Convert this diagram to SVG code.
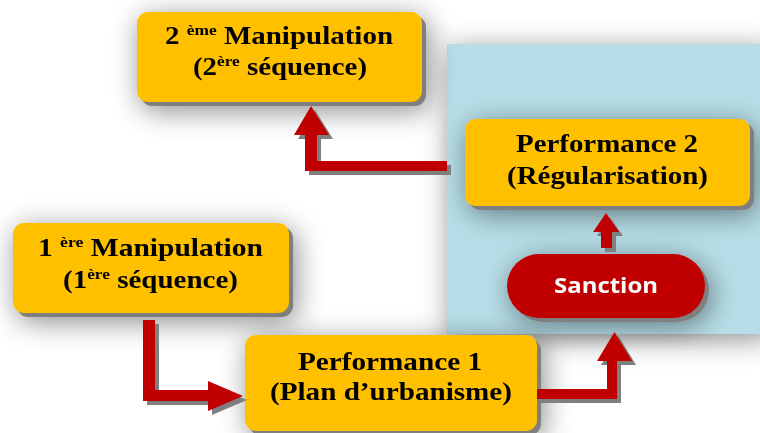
<svg xmlns="http://www.w3.org/2000/svg" width="760" height="433" viewBox="0 0 760 433">
<defs>
<filter id="soft" x="-25%" y="-40%" width="150%" height="180%">
<feGaussianBlur in="SourceAlpha" stdDeviation="14"/>
<feOffset dx="3" dy="5" result="b"/>
<feFlood flood-color="#000" flood-opacity="0.45"/>
<feComposite in2="b" operator="in"/>
<feMerge><feMergeNode/><feMergeNode in="SourceGraphic"/></feMerge>
</filter>
<style>
.box{fill:#FFC000}
.sh{fill:#7F7F7F}
.t{font-family:"Liberation Serif","Times New Roman",serif;font-weight:bold;font-size:25px;fill:#000}
.sup{font-size:15px}
.arr{fill:#C00000}
.s{font-family:"Open Sans","Liberation Sans",sans-serif;font-weight:bold;font-size:21px;fill:#fff}
</style>
</defs>
<rect width="760" height="433" fill="#fff"/>
<g id="panel" filter="url(#soft)">
<rect x="447" y="44" width="320" height="290" fill="#B7DEE8"/>
</g>
<g id="manip2" filter="url(#soft)">
<rect class="sh" x="141" y="16" width="285" height="90" rx="11"/>
<rect class="box" x="137" y="12" width="285" height="90" rx="11"/>
<text class="t" x="165" y="44" textLength="228" lengthAdjust="spacingAndGlyphs">2 <tspan class="sup" dy="-9">ème</tspan><tspan dy="9"> Manipulation</tspan></text>
<text class="t" x="193" y="75" textLength="174" lengthAdjust="spacingAndGlyphs">(2<tspan class="sup" dy="-9">ère</tspan><tspan dy="9"> séquence)</tspan></text>
</g>
<g id="perf2" filter="url(#soft)">
<rect class="sh" x="469" y="123" width="285" height="87" rx="11"/>
<rect class="box" x="465" y="119" width="285" height="87" rx="11"/>
<text class="t" x="516" y="152" textLength="182" lengthAdjust="spacingAndGlyphs">Performance 2</text>
<text class="t" x="507" y="184" textLength="201" lengthAdjust="spacingAndGlyphs">(Régularisation)</text>
</g>
<g id="sanction" filter="url(#soft)">
<rect class="sh" x="511" y="258" width="198" height="64" rx="32"/>
<rect x="507" y="254" width="198" height="64" rx="32" fill="#C00000"/>
<text class="s" x="554" y="293" textLength="104" lengthAdjust="spacingAndGlyphs">Sanction</text>
</g>
<g id="manip1" filter="url(#soft)">
<rect class="sh" x="17" y="227" width="276" height="90" rx="11"/>
<rect class="box" x="13" y="223" width="276" height="90" rx="11"/>
<text class="t" x="38" y="256" textLength="225" lengthAdjust="spacingAndGlyphs">1 <tspan class="sup" dy="-9">ère</tspan><tspan dy="9"> Manipulation</tspan></text>
<text class="t" x="63" y="288" textLength="175" lengthAdjust="spacingAndGlyphs">(1<tspan class="sup" dy="-9">ère</tspan><tspan dy="9"> séquence)</tspan></text>
</g>
<g id="perf1" filter="url(#soft)">
<rect class="sh" x="249" y="339" width="292" height="96" rx="11"/>
<rect class="box" x="245" y="335" width="292" height="96" rx="11"/>
<text class="t" x="298" y="370" textLength="184" lengthAdjust="spacingAndGlyphs">Performance 1</text>
<text class="t" x="270" y="400" textLength="242" lengthAdjust="spacingAndGlyphs">(Plan d’urbanisme)</text>
</g>
<g id="connectors">
<g transform="translate(4,4)" class="sh">
<polygon points="143,320 155,320 155,390 208,390 208,381 243,396 208,411 208,401 143,401"/>
<polygon points="537,389 607,389 607,361 597,361 614.5,332 632,361 617,361 617,399 537,399"/>
<polygon points="447,161 317,161 317,135 329,135 311,106 294,135 305,135 305,171 447,171"/>
<polygon points="601,248 601,232 593,232 606,213 619,232 612,232 612,248"/>
</g>
<g class="arr">
<polygon points="143,320 155,320 155,390 208,390 208,381 243,396 208,411 208,401 143,401"/>
<polygon points="537,389 607,389 607,361 597,361 614.5,332 632,361 617,361 617,399 537,399"/>
<polygon points="447,161 317,161 317,135 329,135 311,106 294,135 305,135 305,171 447,171"/>
<polygon points="601,248 601,232 593,232 606,213 619,232 612,232 612,248"/>
</g>
</g>
</svg>
